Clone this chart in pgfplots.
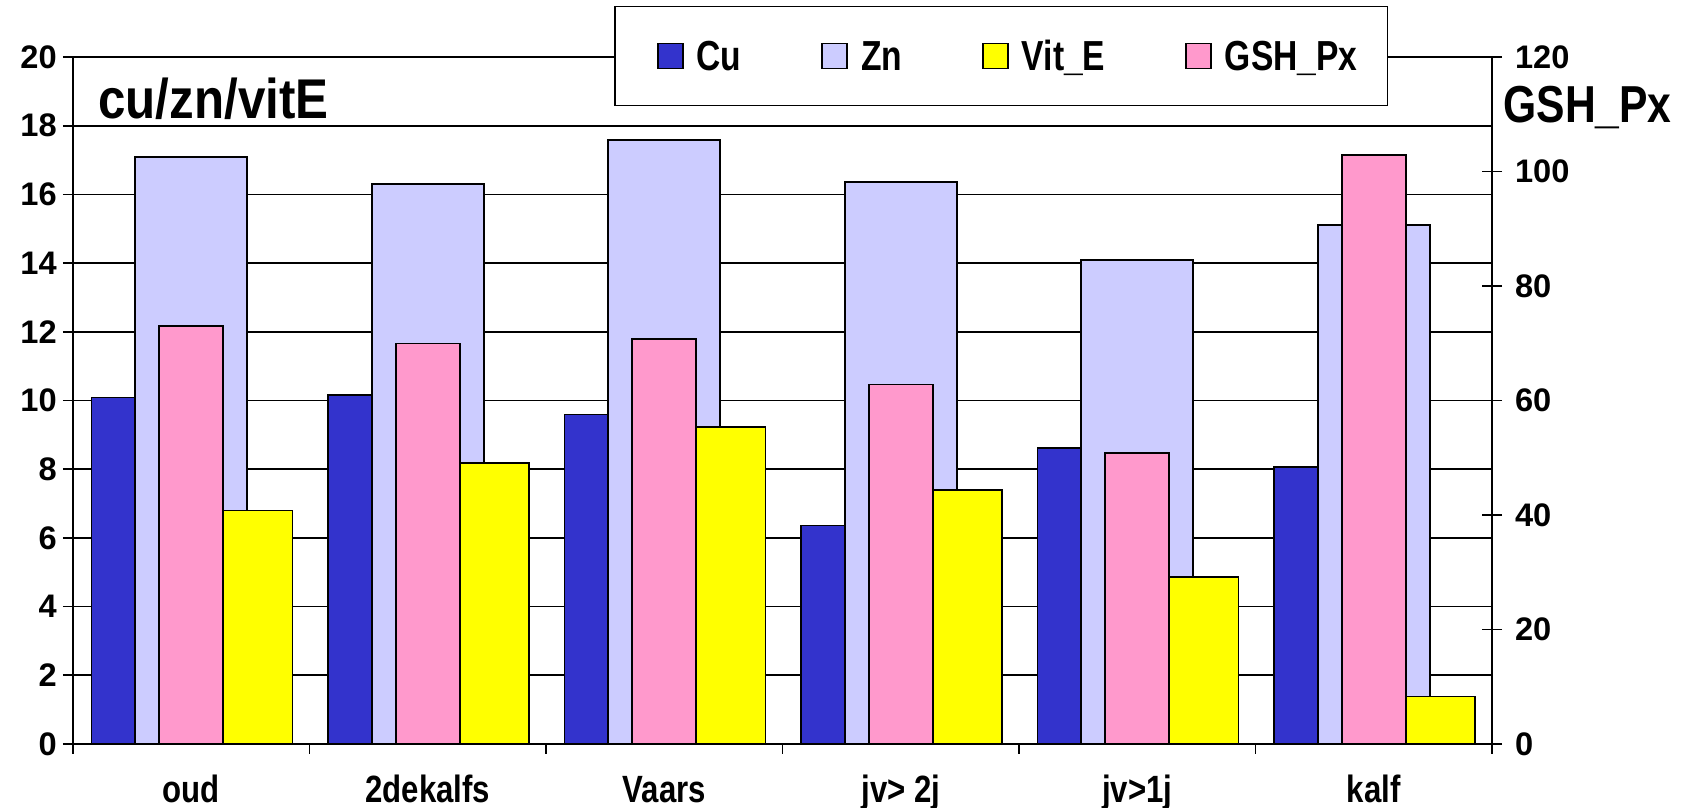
\documentclass[border=0pt]{standalone}
\usepackage{fontspec}
\setmainfont{Liberation Sans}
\newfontfamily\condfont[FakeStretch=0.82]{Liberation Sans}
\newfontfamily\legfont[FakeStretch=0.80]{Liberation Sans}
\newfontfamily\titlefont[FakeStretch=0.88]{Liberation Sans}
\usepackage{pgfplots}
\pgfplotsset{compat=1.18}
\definecolor{cuC}{HTML}{3333CC}
\definecolor{znC}{HTML}{CCCCFF}
\definecolor{veC}{HTML}{FFFF00}
\definecolor{gsC}{HTML}{FF99CC}
\begin{document}
\begin{tikzpicture}
\path[use as bounding box] (-36.5pt,-32pt) rectangle (807.5pt,372pt);
\begin{axis}[
  at={(0pt,0pt)}, anchor=south west,
  scale only axis, width=709.5pt, height=343.5pt,
  xmin=-0.5, xmax=5.5, ymin=0, ymax=20,
  clip=false,
  axis x line*=bottom, axis y line*=left,
  axis line style={line width=0.85pt, -},
  xtick={-0.5,0.5,...,5.5}, xticklabels={},
  extra x ticks={0,1,2,3,4,5},
  extra x tick labels={oud,2dekalfs,Vaars,{jv> 2j},{jv>1j},kalf},
  extra x tick style={major tick length=0pt},
  xticklabel style={anchor=base, yshift=-29.5pt, font=\condfont\bfseries\fontsize{19}{21}\selectfont},
  ytick={0,2,...,20},
  ymajorgrids, grid style={line width=0.85pt, black},
  major tick length=5pt, tick align=outside,
  tick style={line width=0.85pt, black},
  yticklabel style={font=\bfseries\fontsize{16.3}{18}\selectfont, xshift=0.4pt},
  /pgf/number format/assume math mode=true,
]
\addplot[ybar, bar width=0.291, bar shift=-0.276, fill=cuC, draw=black, line width=0.85pt]
  coordinates {(0,10.09) (1,10.16) (2,9.59) (3,6.36) (4,8.62) (5,8.06)};
\addplot[ybar, bar width=0.474, bar shift=0, fill=znC, draw=black, line width=0.85pt]
  coordinates {(0,17.08) (1,16.30) (2,17.59) (3,16.36) (4,14.08) (5,15.11)};
\addplot[ybar, bar width=0.292, bar shift=0.282, fill=veC, draw=black, line width=0.85pt]
  coordinates {(0,6.80) (1,8.18) (2,9.22) (3,7.40) (4,4.86) (5,1.38)};
\node[anchor=base west, font=\titlefont\bfseries\fontsize{28}{32}\selectfont, inner sep=0pt] at (rel axis cs:0.0176,0.911) {cu/zn/vitE};
\end{axis}
\begin{axis}[
  at={(0pt,0pt)}, anchor=south west,
  scale only axis, width=709.5pt, height=343.5pt,
  xmin=-0.5, xmax=5.5, ymin=0, ymax=120,
  clip=false,
  axis x line=none, axis y line*=right,
  axis line style={line width=0.85pt, -},
  ytick={0,20,...,120},
  tick align=center, major tick length=10pt,
  tick style={line width=0.85pt, black},
  yticklabel style={font=\bfseries\fontsize{16.3}{18}\selectfont, xshift=3pt},
  /pgf/number format/assume math mode=true,
  legend image code/.code={\path (-6pt,0pt); \draw[#1, draw=black, line width=0.85pt] (0pt,-6.25pt) rectangle (12.5pt,6.25pt);},
  legend columns=4, legend cell align=left,
  legend style={at={(0.3813,1.0015)}, anchor=west, draw=black, line width=0.85pt, fill=white,
    inner xsep=15pt, inner ysep=17.25pt,
    font=\legfont\bfseries\fontsize{21}{24}\selectfont,
    nodes={inner sep=0pt, text height=15pt, text depth=0pt},
    /tikz/every odd column/.append style={column sep=6.5pt},
    /tikz/every even column/.append style={column sep=34pt}},
]
\addlegendimage{fill=cuC}
\addlegendimage{fill=znC}
\addlegendimage{fill=veC}
\addlegendimage{fill=gsC}
\addplot[ybar, forget plot, bar width=0.27, bar shift=0, fill=gsC, draw=black, line width=0.85pt]
  coordinates {(0,72.97) (1,69.96) (2,70.7) (3,62.8) (4,50.8) (5,102.9)};
\legend{Cu,Zn,Vit\_E,GSH\_Px}
\node[anchor=base west, font=\condfont\bfseries\fontsize{26}{30}\selectfont, inner sep=0pt] at (rel axis cs:1.00775,0.904) {GSH\_Px};
\end{axis}
\end{tikzpicture}
\end{document}
